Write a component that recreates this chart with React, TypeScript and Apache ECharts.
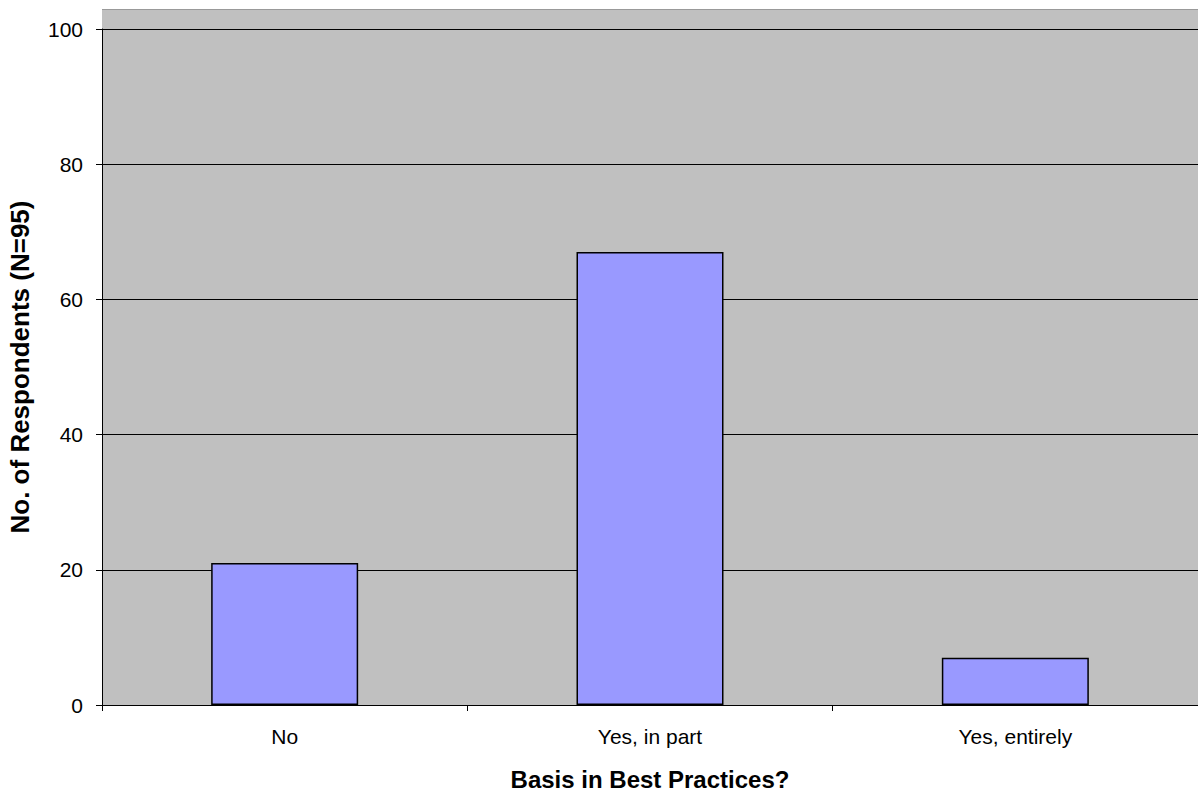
import React, { useEffect, useRef } from "react";
import * as echarts from "echarts";

const categories = ["No", "Yes, in part", "Yes, entirely"];
const respondents = [21, 67, 7];
const yTicks = { min: 0, max: 100, interval: 20 };

export default function App() {
  const ref = useRef<HTMLDivElement>(null);
  useEffect(() => {
    if (!ref.current) return;
    const chart = echarts.init(ref.current, undefined, { renderer: "svg" });
    chart.setOption({
      animation: false,
      textStyle: { fontFamily: "Liberation Sans, Arial, sans-serif" },
      grid: {
        left: 102,
        right: 0,
        top: 29,
        bottom: 86,
        containLabel: false,
        outerBoundsMode: "none",
        show: true,
        backgroundColor: "#C0C0C0",
        borderWidth: 0,
      },
      graphic: [
        {
          type: "rect",
          left: 102,
          top: 9,
          shape: { width: 1096, height: 20 },
          style: { fill: "#C0C0C0" },
          z: -1,
        },
        {
          type: "line",
          shape: { x1: 102, y1: 9.5, x2: 1198, y2: 9.5 },
          style: { stroke: "#999", lineWidth: 1 },
        },
      ],
      xAxis: {
        type: "category",
        data: categories,
        name: "Basis in Best Practices?",
        nameLocation: "middle",
        nameGap: 62,
        nameTextStyle: { fontSize: 24, fontWeight: "bold", color: "#000" },
        axisLine: { lineStyle: { color: "#000", width: 1 } },
        axisTick: { show: true, length: 6, lineStyle: { color: "#000" } },
        axisLabel: { fontSize: 21, color: "#000", margin: 21 },
      },
      yAxis: {
        type: "value",
        min: yTicks.min,
        max: yTicks.max,
        interval: yTicks.interval,
        name: "No. of Respondents (N=95)",
        nameLocation: "middle",
        nameGap: 69,
        nameTextStyle: { fontSize: 26, fontWeight: "bold", color: "#000" },
        axisLine: { show: true, lineStyle: { color: "#000", width: 1 } },
        axisTick: { show: true, length: 6, lineStyle: { color: "#000" } },
        axisLabel: { fontSize: 21, color: "#000", margin: 19 },
        splitLine: { show: true, lineStyle: { color: "#000", width: 1 } },
      },
      series: [
        {
          type: "bar",
          data: respondents,
          barWidth: 147,
          itemStyle: { color: "#9999FF", borderColor: "#000", borderWidth: 1.5 },
        },
      ],
    });
    return () => chart.dispose();
  }, []);
  return (
    <div
      ref={ref}
      style={{ position: "fixed", left: 0, top: 0, width: 1198, height: 791, background: "#fff" }}
    />
  );
}
